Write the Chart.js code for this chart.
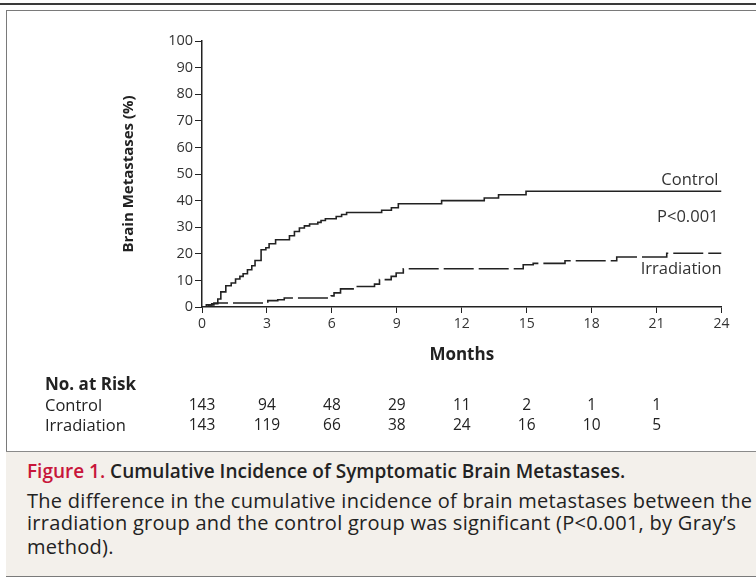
<!DOCTYPE html>
<html>
<head>
<meta charset="utf-8">
<script src="https://cdn.jsdelivr.net/npm/chart.js@4"></script>
<style>
  html, body { margin: 0; padding: 0; background: #fff; }
  body { width: 756px; height: 579px; overflow: hidden; position: relative; font-family: 'Open Sans', sans-serif; }
  .topline { position: absolute; left: 0; top: 3px; width: 756px; height: 2px; background: #3a3a3a; }
  .frame { position: absolute; left: 6px; top: 10px; width: 800px; height: 565px; border: 1px solid #7a7a7a; }
  .plot { position: absolute; left: 0; top: 0; width: 756px; height: 440px; }
  .caption { position: absolute; left: 6px; top: 451px; width: 800px; height: 124px; border-top: 1px solid #8a8a8a; background: #f3f0eb; }
  .caption p { margin: 0; position: absolute; left: 21px; white-space: nowrap; color: #222; font-size: 20px; line-height: 24px; letter-spacing: 0.28px; }
  .caption p.cap-title { top: 7px; font-weight: 600; font-size: 19px; letter-spacing: 0; }
  .cap-title span { color: #c8163a; }
</style>
</head>
<body>
<div class="topline"></div>
<div class="frame"></div>
<div class="plot"><canvas id="kmChart"></canvas></div>
<div class="caption">
  <p class="cap-title"><span>Figure 1.</span> Cumulative Incidence of Symptomatic Brain Metastases.</p>
  <p style="top:37px">The difference in the cumulative incidence of brain metastases between the</p>
  <p style="top:59px">irradiation group and the control group was significant (P&lt;0.001, by Gray’s</p>
  <p style="top:83px">method).</p>
</div>
<script>
// curves (months, cumulative %)
const controlMonths = [0, 0.3, 0.45, 0.73, 0.87, 1.1, 1.35, 1.55, 1.75, 1.9, 2.1, 2.3, 2.45, 2.73, 2.95, 3.1, 3.4, 4.04, 4.27, 4.5, 4.73, 4.97, 5.35, 5.5, 5.7, 6.2, 6.45, 6.68, 8.3, 8.75, 9.07, 11.07, 13.04, 13.7, 14.97, 24];
const controlPct    = [0, 0.8, 1.2, 3.0, 5.7, 8.0, 9.0, 10.5, 11.5, 12.5, 14.0, 15.5, 17.5, 21.5, 22.3, 23.8, 25.3, 26.8, 28.4, 29.7, 30.5, 31.2, 31.8, 32.5, 33.2, 34.0, 34.8, 35.5, 36.4, 37.3, 38.8, 40.0, 41.0, 42.2, 43.5, 43.5];
const irradiationMonths = [0, 0.2, 0.55, 3.04, 3.5, 3.8, 5.97, 6.1, 6.4, 7.05, 7.97, 8.2, 8.74, 8.97, 9.3, 14.84, 15.3, 16.77, 19.16, 21.47, 24];
const irradiationPct    = [0, 0.8, 1.5, 2.4, 2.7, 3.4, 4.2, 5.3, 6.8, 7.7, 8.6, 10.3, 11.5, 12.8, 14.4, 15.9, 16.4, 17.4, 18.8, 20.2, 20.2];

// number at risk table
const riskMonths = [0, 3, 6, 9, 12, 15, 18, 21];
const riskControl = [143, 94, 48, 29, 11, 2, 1, 1];
const riskIrradiation = [143, 119, 66, 38, 24, 16, 10, 5];

const ink = '#222';
const tickColor = '#333';

const toPoints = (xs, ys) => xs.map((x, i) => ({ x: x, y: ys[i] }));

const extras = {
  id: 'extras',
  afterDraw(chart) {
    const ctx = chart.ctx;
    const xs = chart.scales.x, ys = chart.scales.y;
    ctx.save();
    ctx.fillStyle = tickColor;
    ctx.font = '16.5px "Open Sans"';
    ctx.textAlign = 'right';
    ctx.textBaseline = 'middle';
    const right = xs.getPixelForValue(24) - 3;
    ctx.fillText('Control', right, ys.getPixelForValue(47.5));
    ctx.fillText('P<0.001', right, ys.getPixelForValue(33.6));
    ctx.fillText('Irradiation', right + 3, ys.getPixelForValue(14));

    // No. at Risk
    ctx.textAlign = 'left';
    ctx.fillStyle = ink;
    ctx.font = 'bold 17px "Open Sans"';
    ctx.fillText('No. at Risk', 45, 385);
    ctx.font = '16.5px "Open Sans"';
    ctx.fillText('Control', 45, 406);
    ctx.fillText('Irradiation', 45, 426);
    ctx.font = '15.5px "Open Sans"';
    ctx.textAlign = 'center';
    riskMonths.forEach((m, i) => {
      const px = xs.getPixelForValue(m);
      ctx.fillText(String(riskControl[i]), px, 406);
      ctx.fillText(String(riskIrradiation[i]), px, 426);
    });
    ctx.restore();
  }
};

new Chart(document.getElementById('kmChart'), {
  type: 'line',
  data: {
    datasets: [
      {
        label: 'Control',
        data: toPoints(controlMonths, controlPct),
        stepped: true,
        borderColor: ink,
        borderWidth: 1.6,
        pointRadius: 0,
        fill: false
      },
      {
        label: 'Irradiation',
        data: toPoints(irradiationMonths, irradiationPct),
        stepped: true,
        borderColor: ink,
        borderWidth: 1.6,
        borderDash: [30, 5],
        pointRadius: 0,
        fill: false
      }
    ]
  },
  options: {
    responsive: true,
    maintainAspectRatio: false,
    animation: false,
    layout: { padding: { left: 120, top: 41, right: 34.5, bottom: 75 } },
    plugins: { legend: { display: false }, tooltip: { enabled: false } },
    scales: {
      x: {
        type: 'linear',
        min: 0, max: 24,
        afterFit: s => { s.height = 58; },
        ticks: { stepSize: 3, color: tickColor, font: { family: 'Open Sans', size: 14 }, padding: 3, maxRotation: 0 },
        grid: { drawOnChartArea: false, drawTicks: true, tickLength: 6, color: ink },
        border: { color: ink, width: 1.5 },
        title: { display: true, text: 'Months', color: ink, font: { family: 'Open Sans', size: 17, weight: 'bold' }, padding: 0 }
      },
      y: {
        min: 0, max: 100,
        afterFit: s => { s.width = 82; },
        ticks: { stepSize: 10, color: tickColor, font: { family: 'Open Sans', size: 14.5 }, padding: 2 },
        grid: { drawOnChartArea: false, drawTicks: true, tickLength: 7, color: ink },
        border: { color: ink, width: 1.5 },
        title: { display: true, text: 'Brain Metastases (%)', color: ink, font: { family: 'Open Sans', size: 15, weight: 'bold' }, padding: 0 }
      }
    }
  },
  plugins: [extras]
});
</script>
</body>
</html>
